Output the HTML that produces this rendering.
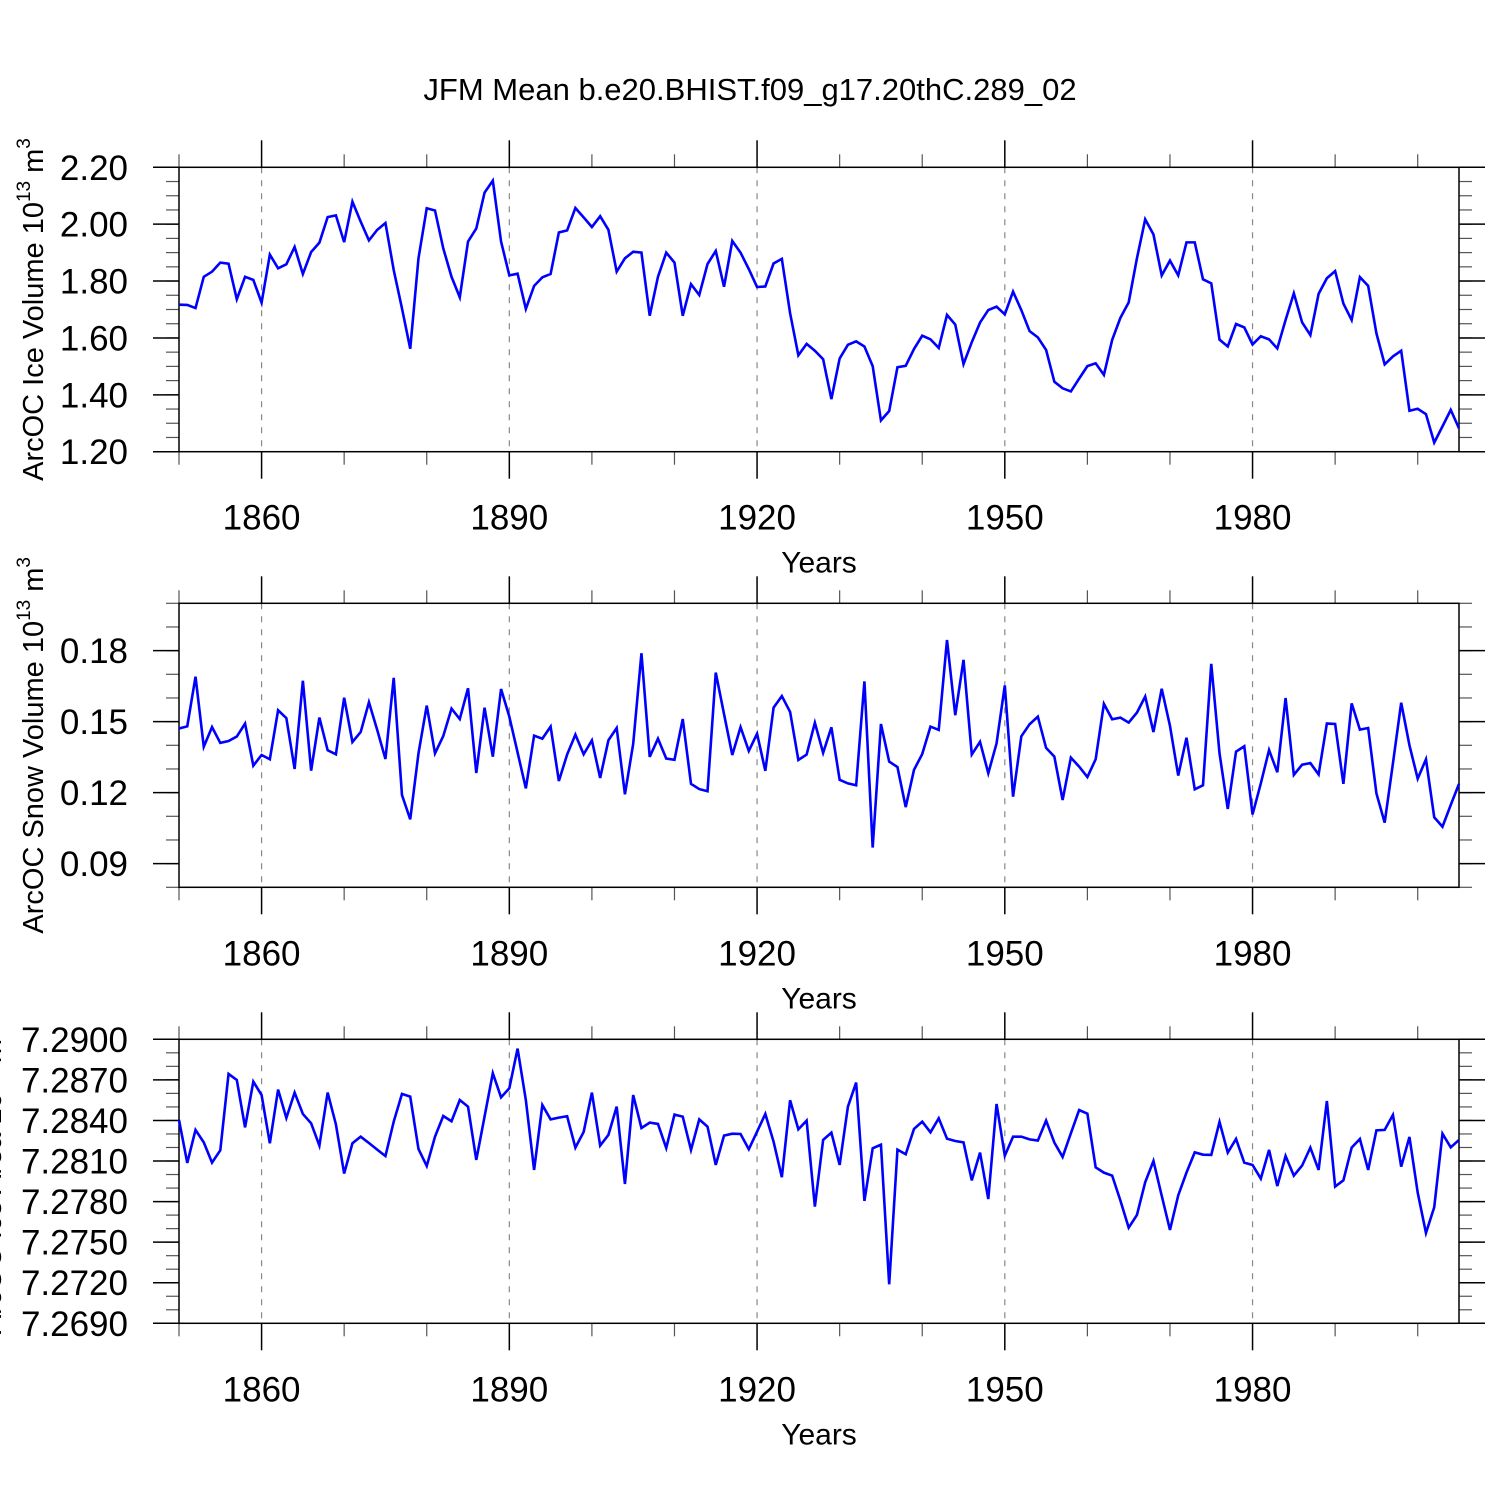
<!DOCTYPE html>
<html><head><meta charset="utf-8"><style>
html,body{margin:0;padding:0;background:#fff;}
svg{display:block;font-family:"Liberation Sans",Arial,sans-serif;}
</style></head><body>
<svg id="chart" width="1500" height="1500" viewBox="0 0 1500 1500" xmlns="http://www.w3.org/2000/svg">
<rect width="1500" height="1500" fill="#fff"/>
<text x="750" y="100" font-size="31" text-anchor="middle">JFM Mean b.e20.BHIST.f09_g17.20thC.289_02</text>
</svg>
<script>
const years = [];
for (let y = 1850; y <= 2005; y++) years.push(y);
const iceVolume = [1.717,1.716,1.705,1.815,1.833,1.865,1.861,1.736,1.815,1.804,1.724,1.893,1.845,1.859,1.920,1.825,1.902,1.935,2.025,2.031,1.937,2.079,2.009,1.943,1.980,2.004,1.839,1.704,1.562,1.880,2.056,2.048,1.915,1.815,1.743,1.939,1.985,2.111,2.153,1.939,1.820,1.826,1.702,1.783,1.813,1.825,1.971,1.978,2.057,2.024,1.990,2.028,1.980,1.833,1.880,1.903,1.900,1.678,1.815,1.900,1.865,1.678,1.789,1.751,1.860,1.906,1.780,1.941,1.900,1.842,1.779,1.781,1.862,1.878,1.687,1.539,1.579,1.555,1.525,1.385,1.528,1.576,1.588,1.570,1.501,1.310,1.343,1.497,1.502,1.561,1.608,1.595,1.565,1.681,1.647,1.508,1.585,1.654,1.698,1.710,1.683,1.763,1.698,1.624,1.602,1.558,1.446,1.423,1.412,1.457,1.501,1.511,1.470,1.593,1.671,1.725,1.880,2.017,1.964,1.820,1.872,1.820,1.936,1.936,1.806,1.792,1.594,1.570,1.649,1.637,1.577,1.606,1.595,1.563,1.663,1.757,1.655,1.610,1.755,1.810,1.835,1.721,1.663,1.814,1.783,1.616,1.507,1.535,1.555,1.344,1.351,1.332,1.232,1.289,1.347,1.282];
const snowVolume = [.1471,.1480,.1690,.1394,.1477,.1410,.1418,.1437,.1492,.1314,.1359,.1341,.1548,.1515,.1300,.1673,.1293,.1517,.1379,.1362,.1601,.1414,.1456,.1582,.1465,.1342,.1685,.1190,.1087,.1366,.1568,.1366,.1439,.1555,.1511,.1641,.1283,.1559,.1352,.1638,.1521,.1370,.1218,.1441,.1428,.1479,.1249,.1361,.1445,.1362,.1421,.1262,.1421,.1473,.1193,.1406,.1789,.1351,.1428,.1344,.1339,.1511,.1237,.1215,.1206,.1707,.1532,.1359,.1477,.1376,.1449,.1292,.1559,.1608,.1541,.1338,.1361,.1495,.1368,.1476,.1254,.1239,.1231,.1670,.0968,.1490,.1331,.1308,.1139,.1296,.1363,.1479,.1465,.1845,.1527,.1761,.1361,.1415,.1282,.1408,.1653,.1183,.1438,.1489,.1521,.1389,.1352,.1169,.1348,.1310,.1266,.1341,.1575,.1510,.1517,.1496,.1538,.1606,.1456,.1639,.1482,.1272,.1432,.1214,.1231,.1744,.1366,.1131,.1373,.1396,.1108,.1239,.1380,.1286,.1600,.1275,.1318,.1325,.1277,.1492,.1490,.1237,.1577,.1466,.1473,.1197,.1073,.1324,.1580,.1400,.1259,.1341,.1096,.1056,.1148,.1237];
const iceArea = [7.28404,7.28086,7.28330,7.28238,7.28088,7.28179,7.28744,7.28699,7.28349,7.28687,7.28588,7.28231,7.28628,7.28418,7.28606,7.28448,7.28379,7.28214,7.28606,7.28371,7.28007,7.28231,7.28280,7.28233,7.28184,7.28137,7.28391,7.28596,7.28576,7.28189,7.28063,7.28280,7.28433,7.28394,7.28551,7.28502,7.28108,7.28428,7.28749,7.28571,7.28638,7.28931,7.28551,7.28034,7.28514,7.28408,7.28421,7.28431,7.28199,7.28315,7.28606,7.28214,7.28293,7.28502,7.27930,7.28588,7.28344,7.28384,7.28374,7.28196,7.28443,7.28428,7.28182,7.28408,7.28354,7.28071,7.28288,7.28302,7.28300,7.28187,7.28317,7.28448,7.28243,7.27980,7.28549,7.28334,7.28399,7.27763,7.28256,7.28310,7.28071,7.28502,7.28680,7.27805,7.28194,7.28221,7.27188,7.28184,7.28150,7.28337,7.28391,7.28312,7.28416,7.28265,7.28248,7.28238,7.27957,7.28162,7.27819,7.28522,7.28140,7.28280,7.28280,7.28260,7.28251,7.28399,7.28236,7.28130,7.28305,7.28477,7.28450,7.28053,7.28014,7.27992,7.27807,7.27607,7.27701,7.27943,7.28100,7.27844,7.27590,7.27846,7.28014,7.28164,7.28147,7.28145,7.28389,7.28162,7.28263,7.28088,7.28071,7.27970,7.28182,7.27915,7.28137,7.27992,7.28066,7.28199,7.28034,7.28544,7.27911,7.27957,7.28199,7.28263,7.28034,7.28327,7.28330,7.28441,7.28058,7.28278,7.27866,7.27568,7.27758,7.28302,7.28201,7.28256];
const xMajorTicks = [1860,1890,1920,1950,1980];
const xMinorTicks = [1850,1870,1880,1900,1910,1930,1940,1960,1970,1990,2000];
const iceVolumeTicks = ["1.20","1.40","1.60","1.80","2.00","2.20"];
const snowVolumeTicks = ["0.09","0.12","0.15","0.18"];
const iceAreaTicks = ["7.2690","7.2720","7.2750","7.2780","7.2810","7.2840","7.2870","7.2900"];

const NS = "http://www.w3.org/2000/svg";
const svg = document.getElementById('chart');
const X0 = 179, X1 = 1459, XMIN = 1850, XMAX = 2005;
function xScale(y){ return X0 + (y - XMIN) / (XMAX - XMIN) * (X1 - X0); }
function mk(tag, attrs, parent){
  const e = document.createElementNS(NS, tag);
  for (const k in attrs) e.setAttribute(k, attrs[k]);
  (parent || svg).appendChild(e);
  return e;
}

const panels = [
  {key:'ice-volume', top:167.3, bot:451.7, min:1.2, max:2.2, data:iceVolume, labels:iceVolumeTicks, minorStep:0.05, title:'ArcOC Ice Volume ', sup2:'3', tx:33},
  {key:'snow-volume', top:603.3, bot:887.3, min:0.08, max:0.20, data:snowVolume, labels:snowVolumeTicks, minorStep:0.01, title:'ArcOC Snow Volume ', sup2:'3', tx:33},
  {key:'ice-area', top:1039.3, bot:1323.3, min:7.269, max:7.290, data:iceArea, labels:iceAreaTicks, minorStep:0.001, title:'ArcOC Ice Area ', sup2:'2', tx:-9}
];

panels.forEach(function(p){
  const g = mk('g', {});
  
  
  const yS = v => p.bot - (v - p.min) / (p.max - p.min) * (p.bot - p.top);
  xMajorTicks.forEach(function(t){
    const l = mk('line', {x1:xScale(t), x2:xScale(t), y1:p.top, y2:p.bot, stroke:'#888', 'stroke-width':1.2, 'stroke-dasharray':'6,7'}, g);
    
    
  });
  xMajorTicks.forEach(function(t){
    const x = xScale(t);
    mk('line', {x1:x, x2:x, y1:p.top-27, y2:p.top, stroke:'#000', 'stroke-width':1.5}, g);
    mk('line', {x1:x, x2:x, y1:p.bot, y2:p.bot+27, stroke:'#000', 'stroke-width':1.5}, g);
    const tl = mk('text', {x:x, y:p.bot+78, 'font-size':35, 'text-anchor':'middle'}, g);
    
    
    tl.textContent = t;
  });
  xMinorTicks.forEach(function(t){
    const x = xScale(t);
    mk('line', {x1:x, x2:x, y1:p.top-13, y2:p.top, stroke:'#555', 'stroke-width':1.2}, g);
    mk('line', {x1:x, x2:x, y1:p.bot, y2:p.bot+13, stroke:'#555', 'stroke-width':1.2}, g);
  });
  const nMin = Math.round((p.max - p.min) / p.minorStep);
  for (let i = 0; i <= nMin; i++){
    const y = yS(p.min + i * p.minorStep);
    mk('line', {x1:X0-13, x2:X0, y1:y, y2:y, stroke:'#555', 'stroke-width':1.2}, g);
    mk('line', {x1:X1, x2:X1+13, y1:y, y2:y, stroke:'#555', 'stroke-width':1.2}, g);
  }
  p.labels.forEach(function(s){
    const y = yS(parseFloat(s));
    mk('line', {x1:X0-26, x2:X0, y1:y, y2:y, stroke:'#000', 'stroke-width':1.5}, g);
    mk('line', {x1:X1, x2:X1+26, y1:y, y2:y, stroke:'#000', 'stroke-width':1.5}, g);
    const tl = mk('text', {x:128, y:y+12.5, 'font-size':35, 'text-anchor':'end'}, g);
    
    
    tl.textContent = s;
  });
  const fr = mk('rect', {x:X0, y:p.top, width:X1-X0, height:p.bot-p.top, fill:'none', stroke:'#000', 'stroke-width':1.5}, g);
  
  
  const pts = p.data.map((v,i) => xScale(years[i]).toFixed(2) + ',' + yS(v).toFixed(2)).join(' ');
  const pl = mk('polyline', {points:pts, fill:'none', stroke:'#0000ff', 'stroke-width':2.6, 'stroke-linejoin':'miter'}, g);
  
  
  const xt = mk('text', {x:819, y:p.bot+121, 'font-size':30, 'text-anchor':'middle'}, g);
  
  
  xt.textContent = 'Years';
  const cy = (p.top + p.bot) / 2;
  const yt = mk('text', {x:0, y:0, 'font-size':29, 'text-anchor':'middle', transform:'translate(' + (p.tx+10) + ',' + cy + ') rotate(-90)'}, g);
  
  
  const a = mk('tspan', {}, yt); a.textContent = p.title + '10';
  const b = mk('tspan', {'font-size':19, dy:-13}, yt); b.textContent = '13';
  const c = mk('tspan', {dy:13}, yt); c.textContent = ' m';
  const d = mk('tspan', {'font-size':19, dy:-13}, yt); d.textContent = p.sup2;
});
</script>
</body></html>
